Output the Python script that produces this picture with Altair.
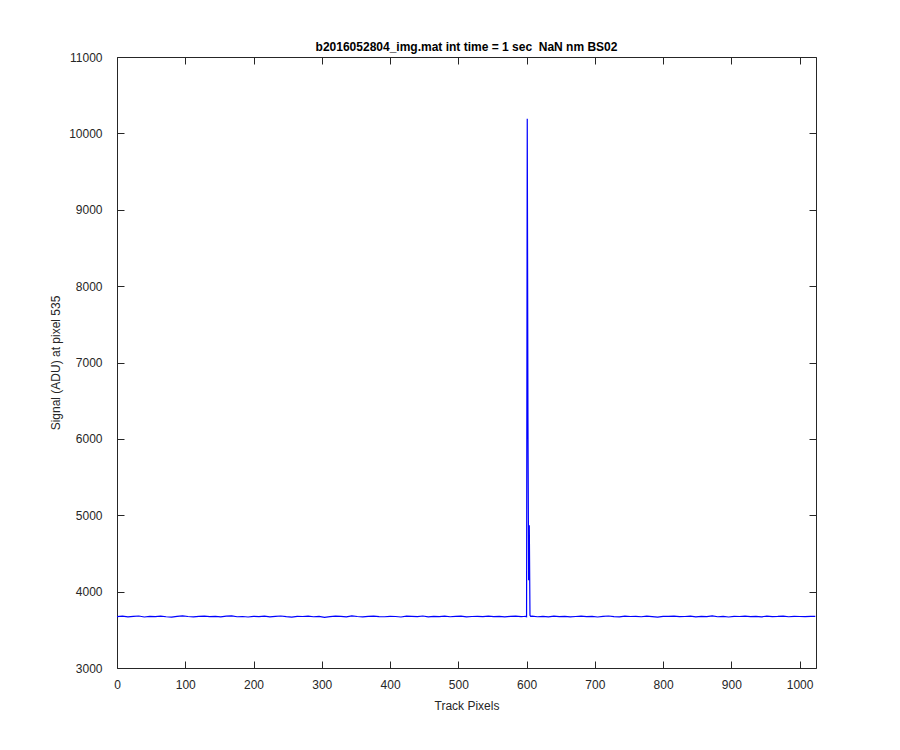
import altair as alt
import pandas as pd

# Track pixel positions (x) and signal values (y)
x_left = list(range(0, 600, 8))
y_left = [3672, 3678, 3670, 3675, 3681, 3668, 3676, 3673, 3679, 3671,
          3666, 3677, 3682, 3674, 3669, 3676, 3680, 3672, 3675, 3670,
          3678, 3683, 3671, 3674, 3668, 3677, 3673, 3679, 3670, 3675,
          3681, 3672, 3667, 3676, 3674, 3679, 3671, 3677, 3664, 3673,
          3678, 3675, 3670, 3682, 3674, 3669, 3676, 3680, 3673, 3671,
          3677, 3674, 3668, 3679, 3675, 3672, 3681, 3670, 3676, 3673,
          3678, 3671, 3675, 3680, 3669, 3674, 3677, 3672, 3679, 3673,
          3676, 3670, 3675, 3678, 3673]

x_peak = [596, 598, 600, 601, 602, 603, 604, 605, 606]
y_peak = [3674, 3676, 3672, 10190, 6300, 4150, 4870, 3690, 3676]

x_right = list(range(608, 1024, 8)) + [1023]
y_right = [3678, 3671, 3675, 3669, 3680, 3673, 3676, 3670, 3674, 3679,
           3672, 3677, 3668, 3675, 3681, 3673, 3670, 3678, 3674, 3676,
           3671, 3679, 3673, 3666, 3677, 3675, 3680, 3672, 3674, 3678,
           3670, 3676, 3673, 3682, 3671, 3675, 3668, 3677, 3674, 3679,
           3672, 3676, 3670, 3678, 3673, 3675, 3680, 3671, 3677, 3674,
           3672, 3676, 3675]

x_ticks = [0, 100, 200, 300, 400, 500, 600, 700, 800, 900, 1000]
y_ticks = [3000, 4000, 5000, 6000, 7000, 8000, 9000, 10000, 11000]

title_text = "b2016052804_img.mat int time = 1 sec \u00a0NaN nm BS02"
x_title = "Track Pixels"
y_title = "Signal (ADU) at pixel 535"

df = pd.DataFrame({
    "px": x_left + x_peak + x_right,
    "sig": y_left + y_peak + y_right,
})

FONT = "Liberation Sans"
AX = "#262626"

xs = alt.Scale(domain=[0, 1024], nice=False, zero=False)
ys = alt.Scale(domain=[3000, 11000], nice=False, zero=False)


def tick_axis(orient):
    return alt.Axis(orient=orient, domain=False, grid=False, labels=False,
                    ticks=True, tickSize=7, offset=-7, tickColor=AX,
                    tickWidth=1, title="",
                    values=x_ticks if orient in ("top", "bottom") else y_ticks)


def frame_axis(orient):
    return alt.Axis(orient=orient, domain=True, domainColor=AX, domainWidth=1,
                    grid=False, labels=False, ticks=False, title="")


main = alt.Chart(df).mark_line(color="#0000FF", strokeWidth=1.2).encode(
    x=alt.X("px:Q", scale=xs, axis=alt.Axis(
        orient="bottom", values=x_ticks, domain=False, grid=False,
        ticks=True, tickSize=7, offset=-7, tickColor=AX, tickWidth=1,
        labelPadding=11, labelFlush=False, labelFont=FONT, labelFontSize=12,
        labelColor=AX,
        title=x_title, titleFont=FONT, titleFontSize=12, titleFontWeight="normal",
        titleColor=AX, titlePadding=10, format="d")),
    y=alt.Y("sig:Q", scale=ys, axis=alt.Axis(
        orient="left", values=y_ticks, domain=False, grid=False,
        ticks=True, tickSize=7, offset=-7, tickColor=AX, tickWidth=1,
        labelPadding=15, labelFlush=False, labelFont=FONT, labelFontSize=12,
        labelColor=AX,
        title=y_title, titleFont=FONT, titleFontSize=12, titleFontWeight="normal",
        titleColor=AX, titlePadding=6, format="d")),
)

mirror = alt.Chart(df).mark_line(opacity=0).encode(
    x=alt.X("px:Q", scale=xs, axis=tick_axis("top")),
    y=alt.Y("sig:Q", scale=ys, axis=tick_axis("right")),
)

frame1 = alt.Chart(df).mark_line(opacity=0).encode(
    x=alt.X("px:Q", scale=xs, axis=frame_axis("bottom")),
    y=alt.Y("sig:Q", scale=ys, axis=frame_axis("left")),
)

frame2 = alt.Chart(df).mark_line(opacity=0).encode(
    x=alt.X("px:Q", scale=xs, axis=frame_axis("top")),
    y=alt.Y("sig:Q", scale=ys, axis=frame_axis("right")),
)

chart = alt.layer(main, mirror, frame1, frame2).resolve_axis(
    x="independent", y="independent"
).properties(
    width=699,
    height=611,
    title=alt.TitleParams(title_text, font=FONT, fontSize=12, fontWeight="bold",
                          color="#000000", offset=-3, anchor="middle"),
    autosize=alt.AutoSizeParams(type="none"),
    padding={"left": 109, "top": 49, "right": 60, "bottom": 70},
).configure_view(
    stroke=None
).configure(background="white")

chart.save("out.html", embed_options={"renderer": "svg", "actions": False})
